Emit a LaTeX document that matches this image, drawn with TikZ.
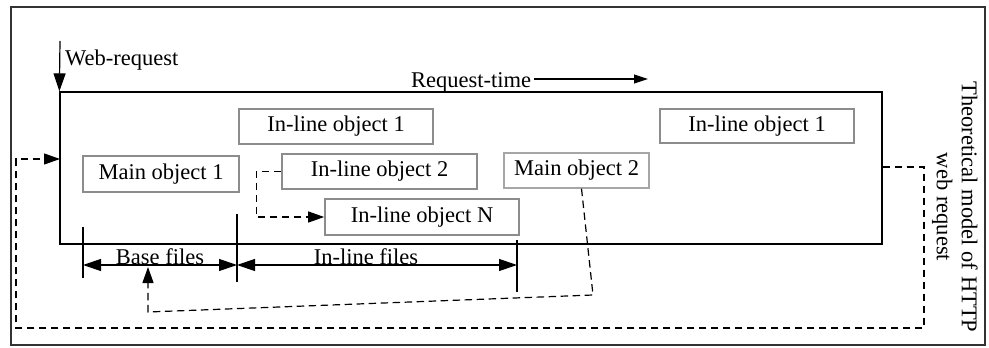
\documentclass[tikz,border=0pt]{standalone}
\usepackage{fontspec}
\setmainfont{Liberation Serif}
\usetikzlibrary{arrows.meta}
\begin{document}
\begin{tikzpicture}[x=1pt,y=-1pt,
  every node/.style={font=\fontsize{22.5}{25}\selectfont, text=black},
  objbox/.style={draw=black!45, line width=1.6pt, fill=white, inner sep=0pt},
  lbl/.style={inner sep=0pt, anchor=base},
  solidarrow/.style={line width=1.2pt, -{Triangle[length=18pt,width=12pt]}},
  dimarrow/.style={line width=1.2pt, {Triangle[length=18pt,width=12pt]}-{Triangle[length=18pt,width=12pt]}},
  dasharrow/.style={line width=1.2pt, dash pattern=on 7.5pt off 4.5pt, -{Triangle[length=16pt,width=11pt]}},
  tick/.style={line width=1.2pt}
]
\useasboundingbox (0,0) rectangle (989,348);
% outer frame
\draw[line width=1.5pt, black!80] (11,7) rectangle (985,345);
% main box
\node[draw, line width=1.3pt, minimum width=822pt, minimum height=152pt, inner sep=0pt] (main) at (471,168) {};
% objects
\node[objbox, minimum width=156pt, minimum height=36pt] (mo1) at (161,174) {Main object 1};
\node[objbox, minimum width=194pt, minimum height=35pt] (ila) at (336,126.5) {In-line object 1};
\node[objbox, minimum width=195pt, minimum height=35pt] (il2) at (379.5,171.5) {In-line object 2};
\node[objbox, minimum width=194pt, minimum height=36pt] (ilN) at (422,217) {In-line object N};
\node[objbox, draw=black!35, line width=1.2pt, minimum width=145pt, minimum height=35pt] (mo2) at (576.5,170.5) {Main object 2};
\node[objbox, minimum width=194pt, minimum height=34pt] (ilb) at (757,126) {In-line object 1};
% web request
\coordinate (wrtop) at (60,41);
\draw[solidarrow] (wrtop) -- (main.north west);
\node[lbl, anchor=base west] (wr) at (65,65) {Web-request};
% request time
\node[lbl] (rt) at (471,87) {Request-time};
\coordinate (rtend) at (648,79);
\draw[line width=1.1pt, -{Triangle[length=14pt,width=9pt]}] (rt.east |- rtend) ++(3,0) -- (rtend);
% theoretical model label
\node[rotate=-90, align=center, inner sep=0pt] (theo) at (955,207) {Theoretical model of HTTP\\web request};
% dimension ticks
\coordinate (t1a) at (83,227); \coordinate (t1b) at (83,278);
\coordinate (t2a) at (237,214); \coordinate (t2b) at (237,282);
\coordinate (t3a) at (517,240); \coordinate (t3b) at (517,292);
\draw[tick] (t1a) -- (t1b);
\draw[tick] (t2a) -- (t2b);
\draw[tick] (t3a) -- (t3b);
\coordinate (d1) at (83,265); \coordinate (d2) at (237,265); \coordinate (d3) at (517,265);
\draw[dimarrow] (d1) -- (d2);
\draw[dimarrow] (d2) -- (d3);
\node[lbl] (bf) at (160,264) {Base files};
\node[lbl] (ilf) at (366,264) {In-line files};
% dashed: in-line object 2 -> in-line object N
\draw[dasharrow] (il2.west) -- ++(-25,0) |- (ilN.west);
% dashed: main object 2 -> base files
\coordinate (m2c) at (593,295);
\coordinate (bfc) at (148,312);
\coordinate (bftip) at (148,267);
\draw[dasharrow] ([xshift=5pt]mo2.south) -- (m2c) -- (bfc) -- (bftip);
% dashed loop: main box -> back to start
\coordinate (lr1) at (924,167);
\coordinate (lr2) at (924,328);
\coordinate (ll2) at (16,328);
\coordinate (ll1) at (16,159);
\coordinate (mainin) at (60,159);
\draw[dasharrow] (main.east |- lr1) -- (lr1) -- (lr2) -- (ll2) -- (ll1) -- (mainin);
\end{tikzpicture}
\end{document}
